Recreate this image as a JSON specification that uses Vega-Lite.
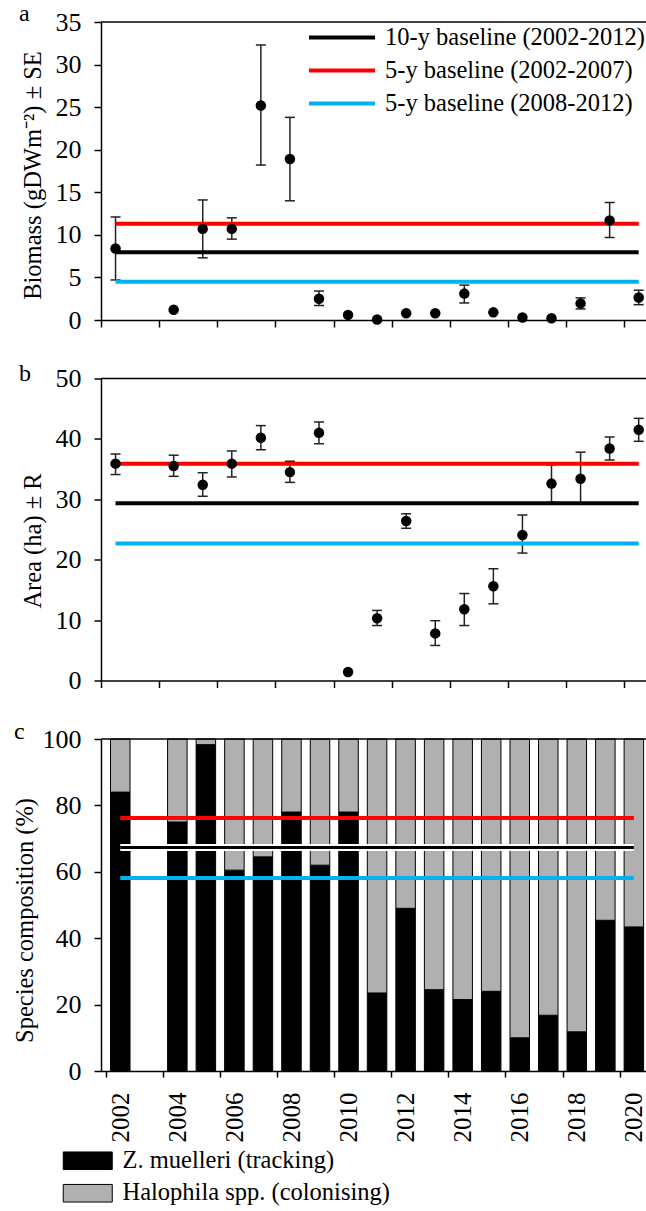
{
  "$schema": "https://vega.github.io/schema/vega-lite/v6.json",
  "background": "white",
  "padding": {"left": 12, "top": 2, "right": 0, "bottom": 4},
  "config": {
    "font": "Liberation Serif",
    "view": {"stroke": null},
    "axis": {"domainColor": "black", "domainWidth": 1.5, "tickColor": "black", "tickWidth": 1.5, "tickSize": 7, "grid": false, "labelFont": "Liberation Serif", "labelFontSize": 26, "labelColor": "black", "titleFont": "Liberation Serif", "titleFontSize": 24.5, "titleFontWeight": "normal", "titleColor": "black", "labelPadding": 13, "titlePadding": 10},
    "title": {"font": "Liberation Serif", "fontSize": 24, "fontWeight": "normal", "anchor": "start", "frame": "group", "offset": 0, "baseline": "alphabetic", "color": "black"},
    "legend": {"labelFont": "Liberation Serif", "labelColor": "black", "labelFontSize": 24.5, "labelLimit": 500, "padding": 0}
  },
  "datasets": {
    "biomass": [
      {"year": 2002, "value": 8.4, "lo": 4.7, "hi": 12.1},
      {"year": 2004, "value": 1.2},
      {"year": 2005, "value": 10.7, "lo": 7.3, "hi": 14.1},
      {"year": 2006, "value": 10.7, "lo": 9.5, "hi": 12.0},
      {"year": 2007, "value": 25.2, "lo": 18.2, "hi": 32.3},
      {"year": 2008, "value": 18.9, "lo": 14.0, "hi": 23.8},
      {"year": 2009, "value": 2.5, "lo": 1.7, "hi": 3.4},
      {"year": 2010, "value": 0.6},
      {"year": 2011, "value": 0.05},
      {"year": 2012, "value": 0.8},
      {"year": 2013, "value": 0.8},
      {"year": 2014, "value": 3.1, "lo": 2.0, "hi": 4.1},
      {"year": 2015, "value": 0.9},
      {"year": 2016, "value": 0.3},
      {"year": 2017, "value": 0.2},
      {"year": 2018, "value": 1.95, "lo": 1.3, "hi": 2.6},
      {"year": 2019, "value": 11.7, "lo": 9.7, "hi": 13.8},
      {"year": 2020, "value": 2.65, "lo": 1.8, "hi": 3.5}
    ],
    "area": [
      {"year": 2002, "value": 35.9, "lo": 34.1, "hi": 37.5},
      {"year": 2004, "value": 35.5, "lo": 33.8, "hi": 37.3},
      {"year": 2005, "value": 32.4, "lo": 30.5, "hi": 34.4},
      {"year": 2006, "value": 35.9, "lo": 33.7, "hi": 38.0},
      {"year": 2007, "value": 40.2, "lo": 38.2, "hi": 42.2},
      {"year": 2008, "value": 34.5, "lo": 32.8, "hi": 36.3},
      {"year": 2009, "value": 41.0, "lo": 39.2, "hi": 42.8},
      {"year": 2010, "value": 1.4},
      {"year": 2011, "value": 10.3, "lo": 9.1, "hi": 11.6},
      {"year": 2012, "value": 26.4, "lo": 25.2, "hi": 27.6},
      {"year": 2013, "value": 7.8, "lo": 5.8, "hi": 9.9},
      {"year": 2014, "value": 11.8, "lo": 9.1, "hi": 14.4},
      {"year": 2015, "value": 15.6, "lo": 12.7, "hi": 18.5},
      {"year": 2016, "value": 24.1, "lo": 21.1, "hi": 27.4},
      {"year": 2017, "value": 32.6, "lo": 29.5, "hi": 35.7},
      {"year": 2018, "value": 33.4, "lo": 29.2, "hi": 37.8},
      {"year": 2019, "value": 38.4, "lo": 36.5, "hi": 40.3},
      {"year": 2020, "value": 41.5, "lo": 39.6, "hi": 43.4}
    ],
    "composition": [
      {"year": 2002, "species": "Z. muelleri  (tracking)", "pct": 84},
      {"year": 2002, "species": "Halophila spp. (colonising)", "pct": 16},
      {"year": 2004, "species": "Z. muelleri  (tracking)", "pct": 75},
      {"year": 2004, "species": "Halophila spp. (colonising)", "pct": 25},
      {"year": 2005, "species": "Z. muelleri  (tracking)", "pct": 98.3},
      {"year": 2005, "species": "Halophila spp. (colonising)", "pct": 1.7},
      {"year": 2006, "species": "Z. muelleri  (tracking)", "pct": 60.5},
      {"year": 2006, "species": "Halophila spp. (colonising)", "pct": 39.5},
      {"year": 2007, "species": "Z. muelleri  (tracking)", "pct": 64.5},
      {"year": 2007, "species": "Halophila spp. (colonising)", "pct": 35.5},
      {"year": 2008, "species": "Z. muelleri  (tracking)", "pct": 78},
      {"year": 2008, "species": "Halophila spp. (colonising)", "pct": 22},
      {"year": 2009, "species": "Z. muelleri  (tracking)", "pct": 62},
      {"year": 2009, "species": "Halophila spp. (colonising)", "pct": 38},
      {"year": 2010, "species": "Z. muelleri  (tracking)", "pct": 78},
      {"year": 2010, "species": "Halophila spp. (colonising)", "pct": 22},
      {"year": 2011, "species": "Z. muelleri  (tracking)", "pct": 23.5},
      {"year": 2011, "species": "Halophila spp. (colonising)", "pct": 76.5},
      {"year": 2012, "species": "Z. muelleri  (tracking)", "pct": 49},
      {"year": 2012, "species": "Halophila spp. (colonising)", "pct": 51},
      {"year": 2013, "species": "Z. muelleri  (tracking)", "pct": 24.5},
      {"year": 2013, "species": "Halophila spp. (colonising)", "pct": 75.5},
      {"year": 2014, "species": "Z. muelleri  (tracking)", "pct": 21.5},
      {"year": 2014, "species": "Halophila spp. (colonising)", "pct": 78.5},
      {"year": 2015, "species": "Z. muelleri  (tracking)", "pct": 24},
      {"year": 2015, "species": "Halophila spp. (colonising)", "pct": 76},
      {"year": 2016, "species": "Z. muelleri  (tracking)", "pct": 10},
      {"year": 2016, "species": "Halophila spp. (colonising)", "pct": 90},
      {"year": 2017, "species": "Z. muelleri  (tracking)", "pct": 16.8},
      {"year": 2017, "species": "Halophila spp. (colonising)", "pct": 83.2},
      {"year": 2018, "species": "Z. muelleri  (tracking)", "pct": 11.8},
      {"year": 2018, "species": "Halophila spp. (colonising)", "pct": 88.2},
      {"year": 2019, "species": "Z. muelleri  (tracking)", "pct": 45.4},
      {"year": 2019, "species": "Halophila spp. (colonising)", "pct": 54.6},
      {"year": 2020, "species": "Z. muelleri  (tracking)", "pct": 43.4},
      {"year": 2020, "species": "Halophila spp. (colonising)", "pct": 56.6}
    ],
    "baseA": [
      {"baseline": "10-y baseline (2002-2012)", "value": 7.95, "start": 2002, "end": 2020},
      {"baseline": "5-y baseline (2002-2007)", "value": 11.3, "start": 2002, "end": 2020},
      {"baseline": "5-y baseline (2008-2012)", "value": 4.5, "start": 2002, "end": 2020}
    ],
    "baseB": [
      {"baseline": "10-y baseline (2002-2012)", "value": 29.35, "start": 2002, "end": 2020},
      {"baseline": "5-y baseline (2002-2007)", "value": 35.9, "start": 2002, "end": 2020},
      {"baseline": "5-y baseline (2008-2012)", "value": 22.7, "start": 2002, "end": 2020}
    ],
    "baseC": [
      {"baseline": "10-y baseline (2002-2012)", "value": 67.3, "start": 2002, "end": 2020},
      {"baseline": "5-y baseline (2002-2007)", "value": 76.2, "start": 2002, "end": 2020},
      {"baseline": "5-y baseline (2008-2012)", "value": 58.1, "start": 2002, "end": 2020}
    ],
    "one": [{}]
  },
  "bounds": "flush",
  "spacing": 58.5,
  "resolve": {"scale": {"color": "independent", "fill": "independent"}},
  "vconcat": [
    {
      "width": 547,
      "height": 298,
      "title": {"text": "a", "dx": -82, "dy": 21},
      "layer": [
        {
          "data": {"name": "biomass"},
          "mark": {"type": "rule", "color": "#222222", "strokeWidth": 1.5},
          "encoding": {
            "x": {"field": "year", "type": "quantitative", "title": null, "scale": {"domain": [2001.5, 2020.32], "nice": false, "zero": false}, "axis": {"values": [2001.5, 2002.5, 2003.5, 2004.5, 2005.5, 2006.5, 2007.5, 2008.5, 2009.5, 2010.5, 2011.5, 2012.5, 2013.5, 2014.5, 2015.5, 2016.5, 2017.5, 2018.5, 2019.5], "labels": false, "title": null}},
            "y": {"field": "lo", "type": "quantitative", "title": "Biomass (gDWm⁻²) ± SE", "scale": {"domain": [0, 35], "nice": false}, "axis": {"values": [0, 5, 10, 15, 20, 25, 30, 35], "title": "Biomass (gDWm⁻²) ± SE", "titleY": 153}},
            "y2": {"field": "hi"}
          }
        },
        {
          "data": {"name": "biomass"},
          "mark": {"type": "tick", "orient": "horizontal", "color": "#222222", "size": 10, "thickness": 1.5, "opacity": 1},
          "encoding": {
            "x": {"field": "year", "type": "quantitative", "title": null},
            "y": {"field": "lo", "type": "quantitative", "title": "Biomass (gDWm⁻²) ± SE"}
          }
        },
        {
          "data": {"name": "biomass"},
          "mark": {"type": "tick", "orient": "horizontal", "color": "#222222", "size": 10, "thickness": 1.5, "opacity": 1},
          "encoding": {
            "x": {"field": "year", "type": "quantitative", "title": null},
            "y": {"field": "hi", "type": "quantitative", "title": "Biomass (gDWm⁻²) ± SE"}
          }
        },
        {
          "data": {"name": "baseA"},
          "mark": {"type": "rule", "strokeWidth": 4},
          "encoding": {
            "x": {"field": "start", "type": "quantitative", "title": null},
            "x2": {"field": "end"},
            "y": {"field": "value", "type": "quantitative", "title": "Biomass (gDWm⁻²) ± SE"},
            "color": {"field": "baseline", "type": "nominal", "scale": {"domain": ["10-y baseline (2002-2012)", "5-y baseline (2002-2007)", "5-y baseline (2008-2012)"], "range": ["#000000", "#ff0000", "#00b0f0"]}, "legend": {"orient": "none", "legendX": 228, "legendY": 2.5, "title": null, "symbolType": "M-3,0H3", "symbolSize": 484, "symbolStrokeWidth": 4, "labelOffset": 30, "rowPadding": 8}}
          }
        },
        {
          "data": {"name": "biomass"},
          "mark": {"type": "point", "filled": true, "color": "black", "size": 110, "opacity": 1},
          "encoding": {
            "x": {"field": "year", "type": "quantitative", "title": null},
            "y": {"field": "value", "type": "quantitative", "title": "Biomass (gDWm⁻²) ± SE"}
          }
        },
        {
          "data": {"name": "one"},
          "mark": {"type": "rule", "color": "black", "strokeWidth": 1.5},
          "encoding": {"y": {"datum": 35, "type": "quantitative"}}
        }
      ]
    },
    {
      "width": 547,
      "height": 302,
      "title": {"text": "b", "dx": -82, "dy": 24},
      "layer": [
        {
          "data": {"name": "area"},
          "mark": {"type": "rule", "color": "#222222", "strokeWidth": 1.5},
          "encoding": {
            "x": {"field": "year", "type": "quantitative", "title": null, "scale": {"domain": [2001.5, 2020.32], "nice": false, "zero": false}, "axis": {"values": [2001.5, 2002.5, 2003.5, 2004.5, 2005.5, 2006.5, 2007.5, 2008.5, 2009.5, 2010.5, 2011.5, 2012.5, 2013.5, 2014.5, 2015.5, 2016.5, 2017.5, 2018.5, 2019.5], "labels": false, "title": null}},
            "y": {"field": "lo", "type": "quantitative", "title": "Area (ha) ± R", "scale": {"domain": [0, 50], "nice": false}, "axis": {"values": [0, 10, 20, 30, 40, 50], "title": "Area (ha) ± R", "titleY": 162}},
            "y2": {"field": "hi"}
          }
        },
        {
          "data": {"name": "area"},
          "mark": {"type": "tick", "orient": "horizontal", "color": "#222222", "size": 10, "thickness": 1.5, "opacity": 1},
          "encoding": {
            "x": {"field": "year", "type": "quantitative", "title": null},
            "y": {"field": "lo", "type": "quantitative", "title": "Area (ha) ± R"}
          }
        },
        {
          "data": {"name": "area"},
          "mark": {"type": "tick", "orient": "horizontal", "color": "#222222", "size": 10, "thickness": 1.5, "opacity": 1},
          "encoding": {
            "x": {"field": "year", "type": "quantitative", "title": null},
            "y": {"field": "hi", "type": "quantitative", "title": "Area (ha) ± R"}
          }
        },
        {
          "data": {"name": "baseB"},
          "mark": {"type": "rule", "strokeWidth": 4},
          "encoding": {
            "x": {"field": "start", "type": "quantitative", "title": null},
            "x2": {"field": "end"},
            "y": {"field": "value", "type": "quantitative", "title": "Area (ha) ± R"},
            "color": {"field": "baseline", "type": "nominal", "scale": {"domain": ["10-y baseline (2002-2012)", "5-y baseline (2002-2007)", "5-y baseline (2008-2012)"], "range": ["#000000", "#ff0000", "#00b0f0"]}, "legend": null}
          }
        },
        {
          "data": {"name": "area"},
          "mark": {"type": "point", "filled": true, "color": "black", "size": 110, "opacity": 1},
          "encoding": {
            "x": {"field": "year", "type": "quantitative", "title": null},
            "y": {"field": "value", "type": "quantitative", "title": "Area (ha) ± R"}
          }
        },
        {
          "data": {"name": "one"},
          "mark": {"type": "rule", "color": "black", "strokeWidth": 1.5},
          "encoding": {"y": {"datum": 50, "type": "quantitative"}}
        }
      ]
    },
    {
      "width": 547,
      "height": 332,
      "title": {"text": "c", "dx": -87, "dy": 22},
      "layer": [
        {
          "data": {"name": "composition"},
          "mark": {"type": "bar", "orient": "vertical", "width": 19.5, "stroke": "black", "strokeWidth": 1},
          "encoding": {
            "x": {"field": "year", "type": "quantitative", "title": null, "scale": {"domain": [2001.5, 2020.32], "nice": false, "zero": false}, "axis": {"values": [2001.5, 2002.5, 2003.5, 2004.5, 2005.5, 2006.5, 2007.5, 2008.5, 2009.5, 2010.5, 2011.5, 2012.5, 2013.5, 2014.5, 2015.5, 2016.5, 2017.5, 2018.5, 2019.5], "title": null, "labelExpr": "datum.value % 2 == 1.5 ? '' + (datum.value + 0.5) : ''", "labelAngle": 270, "labelAlign": "right", "labelBaseline": "middle", "labelOffset": 14, "labelPadding": 15, "labelOverlap": false, "labelFlush": false, "tickSize": 6, "labelFontSize": 25}},
            "y": {"field": "pct", "type": "quantitative", "stack": "zero", "title": "Species composition (%)", "scale": {"domain": [0, 100], "nice": false}, "axis": {"values": [0, 20, 40, 60, 80, 100], "title": "Species composition (%)", "titlePadding": 5, "titleY": 181}},
            "fill": {"field": "species", "type": "nominal", "scale": {"domain": ["Z. muelleri  (tracking)", "Halophila spp. (colonising)"], "range": ["#000000", "#b0b0b0"]}, "legend": {"orient": "none", "legendX": -25.5, "legendY": 409.5, "title": null, "symbolType": "M-2.784,-1H2.784V1H-2.784Z", "symbolSize": 310, "symbolStrokeColor": "black", "symbolStrokeWidth": 1, "labelOffset": 22.5, "rowPadding": 7.5}},
            "order": {"field": "species", "sort": "descending"}
          }
        },
        {
          "data": {"name": "baseC"},
          "transform": [{"filter": "datum.baseline == '10-y baseline (2002-2012)'"}],
          "mark": {"type": "rule", "color": "white", "strokeWidth": 7},
          "encoding": {
            "x": {"field": "start", "type": "quantitative", "title": null},
            "x2": {"field": "end"},
            "y": {"field": "value", "type": "quantitative", "title": "Species composition (%)"}
          }
        },
        {
          "data": {"name": "baseC"},
          "mark": {"type": "rule"},
          "encoding": {
            "x": {"field": "start", "type": "quantitative", "title": null},
            "x2": {"field": "end"},
            "y": {"field": "value", "type": "quantitative", "title": "Species composition (%)"},
            "color": {"field": "baseline", "type": "nominal", "scale": {"domain": ["10-y baseline (2002-2012)", "5-y baseline (2002-2007)", "5-y baseline (2008-2012)"], "range": ["#000000", "#ff0000", "#00b0f0"]}, "legend": null},
            "strokeWidth": {"condition": {"test": "datum.baseline == '10-y baseline (2002-2012)'", "value": 3}, "value": 4}
          }
        },
        {
          "data": {"name": "one"},
          "mark": {"type": "rule", "color": "black", "strokeWidth": 1.5},
          "encoding": {"y": {"datum": 100, "type": "quantitative"}}
        }
      ]
    }
  ]
}
